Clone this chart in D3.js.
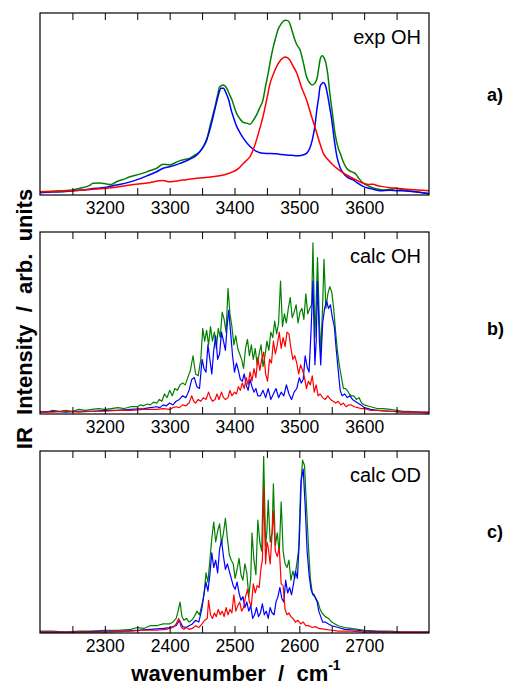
<!DOCTYPE html>
<html><head><meta charset="utf-8">
<script src="https://cdn.jsdelivr.net/npm/d3@7"></script>
<style>
body{margin:0;background:#fff;}
svg{display:block;font-family:"Liberation Sans",Arial,Helvetica,sans-serif;}
</style>
</head><body><svg id="chart" width="508" height="685"></svg>
<script>
// ---------------- DATA ----------------
const panelLetters = ["a)", "b)", "c)"];
const panelTitles = ["exp OH", "calc OH", "calc OD"];
const xDomainOH = [3100, 3700];
const xDomainOD = [2200, 2800];
const tickLabelsOH = [3200, 3300, 3400, 3500, 3600];
const tickLabelsOD = [2300, 2400, 2500, 2600, 2700];
const seriesColors = {green: "#008000", blue: "#0000ff", red: "#ff0000"};

// panel a (experimental OH), intensity in % of frame height
const aGreen = [[3100,1.8],[3120,2],[3136,2.4],[3150,2.8],[3162,3.7],[3175,5],[3182,6.4],[3192,6.6],[3203,6],[3210,5.8],[3218,7.3],[3228,8.5],[3239,10],[3249,11],[3259,12],[3270,13.5],[3280,14.7],[3290,16.9],[3300,16.5],[3308,17.6],[3316,18.9],[3324,19.6],[3331,20.2],[3337,21.5],[3342,22.6],[3347,24],[3352,26.6],[3357,30],[3362,37.6],[3366,43],[3370,48.6],[3374,55],[3377,59.3],[3383,60.5],[3388,58.7],[3392,55.5],[3396,52.3],[3400,48],[3403,45],[3408,42],[3414,39.8],[3419,39.5],[3424,38.9],[3429,41],[3434,44],[3439,48],[3444,52.3],[3448,60],[3452,67],[3456,75],[3460,81.7],[3464,87],[3467,90.8],[3472,94],[3478,96],[3482,95.8],[3485,94.5],[3489,90],[3493,85.3],[3497,82],[3501,79.8],[3506,73],[3511,65.1],[3516,61.5],[3520,60.5],[3524,61.5],[3528,65.1],[3530,70],[3532,74.3],[3535,76.5],[3538,75.5],[3541,72.5],[3544,66],[3547,56],[3551,45],[3555,34],[3559,27],[3563,22.9],[3568,18],[3573,14.7],[3580,12.8],[3586,11.9],[3592,9],[3599,6.4],[3604,5.5],[3609,4.6],[3615,3.7],[3622,3.2],[3629,2.8],[3640,3],[3650,3.7],[3657,3],[3665,2.4],[3680,1.8],[3690,1.2],[3700,0.9]];
const aBlue = [[3100,1.3],[3120,1.6],[3136,1.8],[3160,2.6],[3187,3.7],[3203,4.3],[3218,5.5],[3235,6.8],[3249,8.3],[3265,10.5],[3280,12.8],[3290,14.7],[3300,15.5],[3316,17.4],[3330,19.5],[3342,22],[3347,24],[3352,26.6],[3357,30.5],[3362,35.8],[3367,43],[3372,50.5],[3376,56],[3379,58.7],[3383,58.7],[3387,56],[3391,52.3],[3395,46.5],[3398,43.1],[3403,38],[3409,33.9],[3416,30],[3424,26.6],[3434,24],[3444,22.9],[3455,22.8],[3465,22.6],[3472,22.3],[3480,22],[3488,21.8],[3496,21.5],[3504,21.8],[3511,22.9],[3516,25.5],[3520,30.3],[3524,38],[3527,46.8],[3530,54],[3532,59.6],[3535,61.3],[3537,61.8],[3540,60.5],[3542,57.8],[3546,50],[3550,41.3],[3554,30],[3558,21.1],[3563,15],[3568,11.9],[3575,9.5],[3583,8.3],[3590,6.5],[3599,4.6],[3610,3.5],[3624,2.4],[3640,2.6],[3650,2.4],[3665,2.2],[3676,1.8],[3690,1.2],[3700,0.6]];
const aRed = [[3100,1.8],[3140,2.2],[3187,3.3],[3210,4],[3239,5.5],[3265,6.6],[3290,7.9],[3300,7.3],[3320,8.2],[3342,9.2],[3365,10],[3383,11],[3398,12.8],[3406,14.5],[3414,17.4],[3420,19.5],[3424,21.1],[3429,25],[3434,30.3],[3439,36.5],[3444,43.1],[3450,53],[3455,61.5],[3460,66.5],[3465,70.6],[3471,74],[3478,75.8],[3482,75.3],[3485,74.3],[3490,71],[3496,67],[3503,59.5],[3511,52.3],[3519,43],[3527,33.9],[3532,28],[3537,22.9],[3544,19.5],[3552,16.5],[3562,13.5],[3573,11],[3586,8.5],[3599,6.4],[3607,5.8],[3614,5.9],[3620,5.2],[3629,4.6],[3640,4],[3650,3.7],[3670,3],[3700,2.4]];

// panel b (calculated OH)
const bGreen = [[3100,1.5],[3110,1],[3120,2],[3130,1.5],[3140,2],[3150,1.5],[3160,2.5],[3170,2],[3180,2.5],[3190,3],[3200,2.5],[3210,3],[3220,3.5],[3230,3],[3240,4],[3250,4],[3255,5],[3260,4.5],[3265,5.5],[3270,5],[3275,6.5],[3280,6],[3284,8],[3288,7],[3292,11],[3296,9],[3300,13],[3304,10],[3308,14],[3312,13],[3316,16],[3320,17],[3324,16],[3328,20],[3332,24],[3336,32],[3340,22],[3344,21],[3348,30],[3351,47],[3354,40],[3357,46],[3360,38],[3363,48],[3366,40],[3369,45],[3372,36],[3375,47],[3378,42],[3381,56],[3384,52],[3387,45],[3390,69],[3393,55],[3396,48],[3399,38],[3402,43],[3405,36],[3408,33],[3411,30],[3414,25],[3417,36],[3420,41],[3423,32],[3426,38],[3429,30],[3432,36],[3435,27],[3438,33],[3441,38],[3444,26],[3447,32],[3450,40],[3453,35],[3456,45],[3459,42],[3462,51],[3465,44],[3468,50],[3471,73],[3474,48],[3477,55],[3480,50],[3483,58],[3486,64],[3489,53],[3492,56],[3495,60],[3498,50],[3501,56],[3504,58],[3507,52],[3510,66],[3513,55],[3516,58],[3519,60],[3521,94],[3524,42],[3526,62],[3528,86],[3531,50],[3533,34],[3536,60],[3538,85],[3541,58],[3544,66],[3547,70],[3550,67],[3553,58],[3556,45],[3559,34],[3562,26],[3565,20],[3568,14],[3571,14],[3574,13],[3577,11],[3580,10],[3584,10],[3588,8],[3592,9],[3596,6],[3600,5],[3610,4],[3620,3],[3630,3],[3640,2.5],[3650,2],[3660,1.5],[3670,1.5],[3680,1],[3690,1],[3700,1]];
const bBlue = [[3100,1],[3120,1.5],[3140,1],[3160,1.5],[3180,1.5],[3200,2],[3220,2],[3240,2.5],[3260,3],[3270,3.5],[3280,4],[3285,3.5],[3290,5],[3295,4.5],[3300,6],[3305,5],[3310,7],[3315,8],[3320,10],[3325,9],[3330,13],[3334,19],[3338,20],[3342,15],[3346,14],[3350,30],[3353,25],[3356,23],[3359,38],[3362,30],[3365,22],[3368,35],[3371,43],[3374,30],[3377,33],[3380,45],[3383,40],[3386,35],[3389,50],[3391,57],[3394,45],[3397,32],[3400,23],[3403,28],[3406,24],[3409,19],[3412,18],[3415,22],[3418,16],[3421,13],[3424,19],[3427,15],[3430,12],[3433,14],[3436,10],[3440,10],[3444,13],[3448,9],[3452,14],[3456,8],[3460,11],[3464,14],[3468,9],[3472,12],[3476,10],[3480,16],[3484,11],[3488,8],[3492,12],[3496,14],[3500,20],[3503,17],[3506,19],[3509,32],[3512,26],[3515,23],[3518,45],[3521,73],[3524,27],[3526,40],[3528,73],[3531,40],[3533,27],[3536,50],[3539,58],[3542,62],[3545,58],[3548,60],[3551,53],[3554,48],[3557,35],[3560,24],[3563,13],[3566,10],[3570,11],[3574,9],[3578,10],[3582,8],[3586,7],[3590,6],[3595,5],[3600,3.5],[3610,2.5],[3620,2],[3640,1.5],[3660,1],[3680,1],[3700,0.5]];
const bRed = [[3100,1],[3120,1],[3140,1.5],[3160,1],[3180,1.5],[3200,1.5],[3220,2],[3240,2],[3260,2.5],[3280,2.5],[3290,3],[3300,2.5],[3305,3.5],[3310,4],[3315,3.5],[3320,5],[3325,4.5],[3330,6],[3334,10],[3337,7],[3340,6],[3344,8],[3348,7],[3352,9],[3356,8],[3360,12],[3363,9],[3366,7],[3370,8],[3373,11],[3376,8],[3380,12],[3383,9],[3386,8],[3390,9],[3393,13],[3396,10],[3400,12],[3403,11],[3406,15],[3409,13],[3412,17],[3415,14],[3418,20],[3421,16],[3424,23],[3427,18],[3430,25],[3433,20],[3436,31],[3439,24],[3442,30],[3445,34],[3448,22],[3451,18],[3454,30],[3457,28],[3460,40],[3463,33],[3466,38],[3469,45],[3472,36],[3475,42],[3478,37],[3481,45],[3484,44],[3487,36],[3490,30],[3493,32],[3496,28],[3499,22],[3502,27],[3505,24],[3508,20],[3511,14],[3514,18],[3517,16],[3520,21],[3523,12],[3526,16],[3529,10],[3532,11],[3536,9],[3540,8],[3544,10],[3548,8],[3552,7],[3556,6],[3560,7],[3564,5],[3568,6],[3572,4],[3576,5],[3580,5],[3585,4],[3590,3.5],[3595,3],[3600,3],[3610,2],[3620,2],[3640,1.5],[3660,1],[3680,1],[3700,1]];

// panel c (calculated OD)
const cGreen = [[2200,1],[2220,1],[2240,0.5],[2260,1],[2280,1],[2300,1.5],[2320,1.5],[2340,2],[2350,3],[2360,2.5],[2370,4],[2380,4],[2390,5],[2400,5],[2405,6],[2410,8],[2413,12],[2416,17],[2419,9],[2422,7],[2426,8],[2430,6],[2434,7],[2438,9],[2442,12],[2446,10],[2450,16],[2453,21],[2456,33],[2459,28],[2462,40],[2465,52],[2468,61],[2471,50],[2474,56],[2477,60],[2480,49],[2483,55],[2486,63],[2489,52],[2492,43],[2495,40],[2498,38],[2501,30],[2504,35],[2507,41],[2510,32],[2513,29],[2516,38],[2519,33],[2522,20],[2525,30],[2527,55],[2530,40],[2533,32],[2536,62],[2539,50],[2542,45],[2545,97],[2548,48],[2550,56],[2552,73],[2555,50],[2558,55],[2560,82],[2563,48],[2566,55],[2569,44],[2572,72],[2575,45],[2578,38],[2581,36],[2584,40],[2587,29],[2590,34],[2593,30],[2596,38],[2599,46],[2602,80],[2605,95],[2608,92],[2611,70],[2614,48],[2617,30],[2620,22],[2623,21],[2626,18],[2629,17],[2632,13],[2635,11],[2640,9],[2645,8],[2650,6],[2655,5],[2660,4],[2670,3],[2680,2.5],[2690,2],[2700,1.5],[2720,1],[2740,1],[2760,0.5],[2780,0.5],[2800,0.5]];
const cBlue = [[2200,0.5],[2250,0.5],[2300,1],[2330,1],[2350,1.5],[2370,2],[2390,2.5],[2400,3],[2410,4],[2415,7],[2420,3.5],[2425,3],[2430,4],[2435,5],[2440,7],[2445,6],[2450,14],[2453,22],[2456,28],[2459,23],[2462,32],[2465,44],[2468,36],[2471,40],[2474,33],[2477,46],[2480,51],[2483,42],[2486,35],[2489,38],[2492,34],[2495,30],[2498,26],[2501,24],[2504,28],[2507,22],[2510,18],[2513,20],[2516,14],[2519,17],[2522,12],[2525,15],[2528,8],[2531,10],[2534,14],[2537,9],[2540,11],[2543,16],[2546,10],[2549,12],[2552,8],[2555,14],[2558,11],[2561,10],[2564,17],[2567,20],[2570,25],[2573,19],[2576,17],[2579,29],[2582,22],[2585,25],[2588,21],[2591,27],[2594,34],[2597,30],[2600,51],[2603,84],[2606,90],[2609,70],[2612,45],[2615,32],[2618,24],[2621,21],[2624,20],[2627,18],[2630,12],[2633,9],[2636,6],[2640,6],[2645,5],[2650,4],[2660,3],[2670,2],[2690,1.5],[2700,1],[2750,0.5],[2800,0.5]];
const cRed = [[2200,0.5],[2250,0.5],[2300,0.5],[2340,1],[2360,1.5],[2380,1.5],[2395,2],[2405,3],[2410,5],[2414,8],[2418,3],[2422,2],[2426,3],[2430,2],[2435,2.5],[2440,4],[2445,3],[2450,5],[2454,7],[2458,8],[2460,18],[2463,10],[2466,8],[2469,11],[2472,9],[2475,13],[2478,10],[2481,12],[2484,9],[2487,14],[2490,10],[2493,13],[2496,11],[2499,21],[2502,12],[2505,15],[2508,17],[2511,12],[2514,14],[2517,20],[2520,24],[2523,17],[2526,15],[2529,27],[2532,22],[2535,26],[2538,25],[2541,36],[2543,40],[2545,80],[2548,38],[2550,50],[2552,47],[2555,38],[2558,55],[2560,67],[2563,45],[2566,42],[2569,47],[2572,27],[2575,26],[2578,13],[2581,10],[2584,11],[2587,9],[2590,8],[2594,6],[2598,7],[2602,5],[2606,6],[2610,4],[2615,4],[2620,3],[2625,3.5],[2630,2.5],[2640,2],[2650,1.5],[2660,1],[2680,1],[2700,0.5],[2800,0.5]];

// ---------------- LAYOUT ----------------
const svg = d3.select("#chart");
const left = 40, right = 429, panelH = 182;
const panelTops = [13, 232, 451];
const panels = [
  {domain: xDomainOH, labels: tickLabelsOH, series: [["green", aGreen], ["blue", aBlue], ["red", aRed]], width: 1.5, smooth: true},
  {domain: xDomainOH, labels: tickLabelsOH, series: [["green", bGreen], ["blue", bBlue], ["red", bRed]], width: 1.2, smooth: false},
  {domain: xDomainOD, labels: tickLabelsOD, series: [["green", cGreen], ["blue", cBlue], ["red", cRed]], width: 1.2, smooth: false}
];
const letterY = [101, 335, 538];

panels.forEach((p, i) => {
  const top = panelTops[i], bottom = top + panelH;
  const x = d3.scaleLinear().domain(p.domain).range([left, right]);
  const y = d3.scaleLinear().domain([0, 100]).range([bottom, top]);
  const g = svg.append("g");
  const clipId = "clip" + i;
  g.append("clipPath").attr("id", clipId).append("rect")
    .attr("x", left).attr("y", top).attr("width", right - left).attr("height", panelH);

  const line = d3.line().x(d => x(d[0])).y(d => y(d[1]))
    .curve(p.smooth ? d3.curveMonotoneX : d3.curveLinear);
  const lg = g.append("g").attr("clip-path", `url(#${clipId})`);
  p.series.forEach(([c, data]) => {
    lg.append("path").datum(data).attr("d", line)
      .attr("fill", "none").attr("stroke", seriesColors[c])
      .attr("stroke-width", p.width).attr("stroke-linejoin", "round");
  });

  const minor = d3.range(p.domain[0] + 50, p.domain[1], 50);
  const axB = g.append("g").attr("transform", `translate(0,${bottom})`)
    .call(d3.axisBottom(x).tickValues(minor).tickSizeInner(-7).tickSizeOuter(0)
      .tickFormat(d => p.labels.includes(d) ? d : ""));
  axB.select(".domain").remove();
  axB.selectAll("line").attr("stroke", "#000").attr("stroke-width", 1);
  axB.selectAll("text").attr("y", 19).attr("dy", 0).attr("fill", "#000")
    .style("font-size", "17.5px").style("font-family", '"Liberation Sans",Arial,sans-serif');
  const axT = g.append("g").attr("transform", `translate(0,${top})`)
    .call(d3.axisTop(x).tickValues(minor).tickSizeInner(-7).tickSizeOuter(0).tickFormat(""));
  axT.select(".domain").remove();
  axT.selectAll("line").attr("stroke", "#000").attr("stroke-width", 1);

  g.append("rect").attr("x", left).attr("y", top).attr("width", right - left).attr("height", panelH)
    .attr("fill", "none").attr("stroke", "#000").attr("stroke-width", 1.2);

  g.append("text").attr("x", 421).attr("y", top + 31).attr("text-anchor", "end")
    .style("font-size", "20px").attr("fill", "#000").text(panelTitles[i]);

  svg.append("text").attr("x", 487).attr("y", letterY[i])
    .style("font-size", "18px").style("font-weight", "bold").attr("fill", "#000").text(panelLetters[i]);
});

svg.append("text").attr("transform", "translate(32,319) rotate(-90)")
  .attr("text-anchor", "middle").style("font-size", "22px").style("font-weight", "bold")
  .style("white-space", "pre").attr("fill", "#000").text("IR  Intensity  /  arb.  units");

const xt = svg.append("text").attr("x", 236).attr("y", 681).attr("text-anchor", "middle")
  .style("font-size", "22px").style("font-weight", "bold").style("white-space", "pre").attr("fill", "#000");
xt.append("tspan").text("wavenumber  /  cm");
xt.append("tspan").attr("dy", -11).style("font-size", "14px").text("-1");
</script>
</body></html>
